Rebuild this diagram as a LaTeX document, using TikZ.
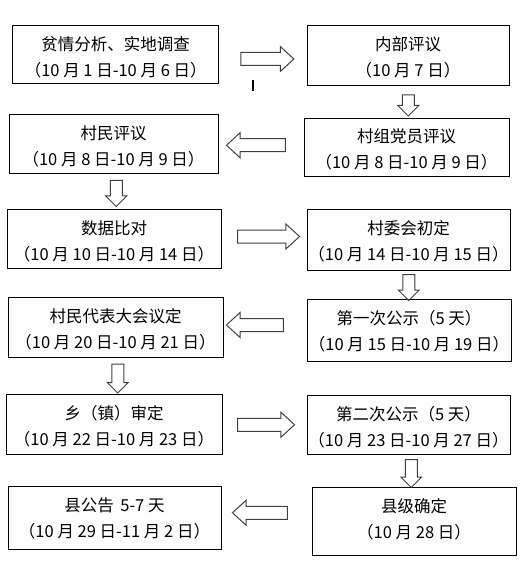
\documentclass[tikz,border=0pt]{standalone}
\usepackage{fontspec}
\newfontfamily\cjk{Noto Sans CJK SC}
\usetikzlibrary{shapes.arrows, calc}

\begin{document}
\begin{tikzpicture}[
    x=1pt, y=-1pt,
    stage/.style={draw, rectangle, line width=0.9pt, inner sep=0pt, align=center, text depth=2pt, font=\cjk\fontsize{16.5}{26}\selectfont},
    blockarrow/.style={draw=black!75, line width=1pt, single arrow, inner xsep=0pt, inner ysep=6pt, text height=0pt, text depth=0pt, single arrow head extend=6pt, single arrow tip angle=85, minimum height=56pt},
    rarrow/.style={blockarrow},
    larrow/.style={blockarrow, rotate=180},
    darrow/.style={blockarrow, rotate=-90, inner ysep=5.5pt, single arrow head extend=4.5pt, single arrow tip angle=90, minimum height=26pt}
]
\useasboundingbox (0,0) rectangle (527,569);

% Left column
\node[stage, minimum width=206pt, minimum height=58pt, text height=47pt] (survey) at (115.7,54) {贫情分析、实地调查\\（10 月 1 日-10 月 6 日）};
\node[stage, minimum width=209pt, minimum height=59pt, text height=46pt] (villagers) at (113.5,143.5) {村民评议\\（10 月 8 日-10 月 9 日）};
\node[stage, minimum width=214pt, minimum height=59pt, text height=46pt] (compare) at (114,238.5) {数据比对\\（10 月 10 日-10 月 14 日）};
\node[stage, minimum width=215pt, minimum height=60pt, text height=45pt] (delegates) at (115.5,327) {村民代表大会议定\\（10 月 20 日-10 月 21 日）};
\node[stage, minimum width=216pt, minimum height=60pt, text height=45pt] (township) at (114,424) {乡（镇）审定\\（10 月 22 日-10 月 23 日）};
\node[stage, minimum width=213pt, minimum height=63pt, text height=42pt] (countynotice) at (114.5,517.5) {县公告 \,5-7 天\\（10 月 29 日-11 月 2 日）};

% Right column
\node[stage, minimum width=202pt, minimum height=60pt, text height=45pt] (internal) at (408,55) {内部评议\\（10 月 7 日）};
\node[stage, minimum width=205pt, minimum height=58pt, text height=46pt] (party) at (406.5,147) {村组党员评议\\（10 月 8 日-10 月 9 日）};
\node[stage, minimum width=203pt, minimum height=61pt, text height=44pt] (committee) at (408.5,239.5) {村委会初定\\（10 月 14 日-10 月 15 日）};
\node[stage, minimum width=204pt, minimum height=62pt, text height=43pt] (notice1) at (409,330) {第一次公示（5 天）\\（10 月 15 日-10 月 19 日）};
\node[stage, minimum width=203pt, minimum height=59pt, text height=46pt] (notice2) at (408.5,424.5) {第二次公示（5 天）\\（10 月 23 日-10 月 27 日）};
\node[stage, minimum width=204pt, minimum height=68pt, text height=37pt] (county) at (414,521) {县级确定\\（10 月 28 日）};

% Stray mark below the first arrow
\node[fill=black, inner sep=0pt, minimum width=2pt, minimum height=11pt] (cursor) at (253,85.5) {};

% Block arrows: across
\node[rarrow, minimum height=53pt] (a1) at ($(survey.east)!0.5!(internal.west)+(1,4.5)$) {};
\node[larrow, minimum height=59pt] (a3) at ($(party.west)!0.5!(villagers.east)+(-1.5,0)$) {};
\node[rarrow, minimum height=62pt] (a5) at ($(compare.east)!0.5!(committee.west)+(1,-2.5)$) {};
\node[larrow, minimum height=57pt] (a7) at ($(notice1.west)!0.5!(delegates.east)+(-6.5,-3.5)$) {};
\node[rarrow, minimum height=57pt] (a9) at ($(township.east)!0.5!(notice2.west)+(-2,0.5)$) {};
\node[larrow, minimum height=55pt] (a11) at ($(county.west)!0.5!(countynotice.east)+(-3,-6.5)$) {};

% Block arrows: down
\node[darrow, minimum height=21pt] (a2) at ($(internal.south)!0.5!(party.north)+(1,1)$) {};
\node[darrow] (a4) at ($(villagers.south)!0.5!(compare.north)+(2.5,-0.5)$) {};
\node[darrow] (a6) at ($(committee.south)!0.5!(notice1.north)+(0,0)$) {};
\node[darrow, minimum height=29pt] (a8) at ($(delegates.south)!0.5!(township.north)+(3,0)$) {};
\node[darrow, minimum height=28pt] (a10) at ($(notice2.south)!0.5!(county.north)+(0,0)$) {};

\end{tikzpicture}
\end{document}
